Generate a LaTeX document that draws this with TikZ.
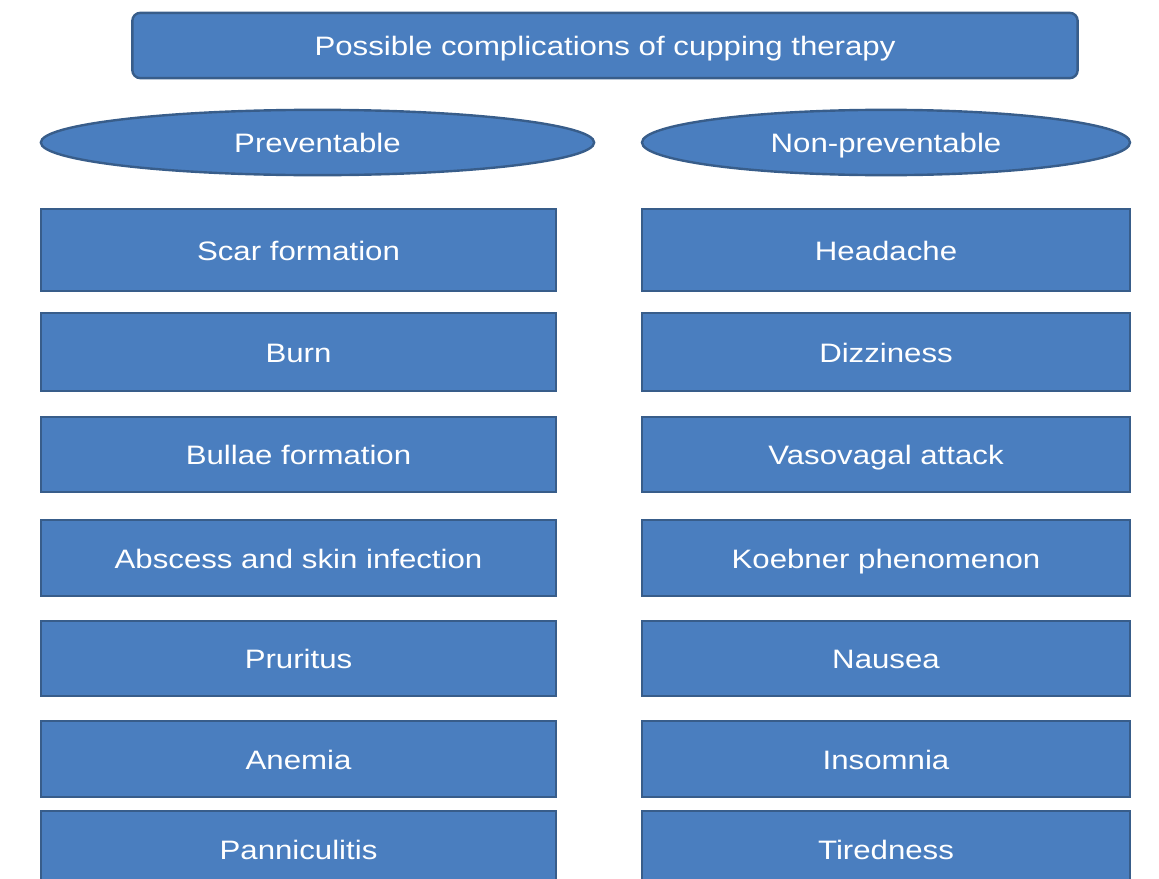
\documentclass[tikz,border=0pt]{standalone}
\usepackage{fontspec}
\newfontfamily\boxfont{Liberation Sans}[FakeStretch=1.17]
\usetikzlibrary{shapes.geometric}
\usetikzlibrary{positioning}
\definecolor{boxblue}{RGB}{74,126,191}
\definecolor{boxline}{RGB}{56,93,138}

\begin{document}
\begin{tikzpicture}[
	x=0.75pt, y=-0.75pt,
	every node/.style={font=\boxfont\fontsize{20}{24}\selectfont, text=white, inner sep=0pt,
		text height=19pt, text depth=4pt},
	shaded/.style = {draw=boxline, fill=boxblue, line width=1.8pt},
	topbox/.style = {shaded, rounded corners=6pt, minimum width=709pt, minimum height=49pt},
	group/.style = {shaded, ellipse, minimum height=49pt},
	item/.style = {shaded, rectangle, minimum height=#1}
	]
	\useasboundingbox (0,0) rectangle (1159,878);
	\clip (0,0) rectangle (1159,878);

	\node[topbox] (top) at (605,45.5) {Possible complications of cupping therapy};

	\node[group, minimum width=415pt] (prev) at (317.5,142.5) {Preventable};
	\node[group, minimum width=366pt] (nonprev) at (886,142.5) {Non-preventable};

	% the two columns, row by row
	\foreach \i/\y/\h/\a/\b in {
		1/250/61.5pt/Scar formation/Headache,
		2/352/58.5pt/Burn/Dizziness,
		3/454.5/56pt/Bullae formation/Vasovagal attack,
		4/558/57pt/Abscess and skin infection/Koebner phenomenon,
		5/658.5/56pt/Pruritus/Nausea,
		6/759/57pt/Anemia/Insomnia,
		7/849/57pt/Panniculitis/Tiredness}
	{
		\node[item=\h, minimum width=386pt] (p\i) at (298.5,\y) {\a};
		\node[item=\h, minimum width=366pt] (n\i) at (886,\y) {\b};
	}

\end{tikzpicture}
\end{document}
